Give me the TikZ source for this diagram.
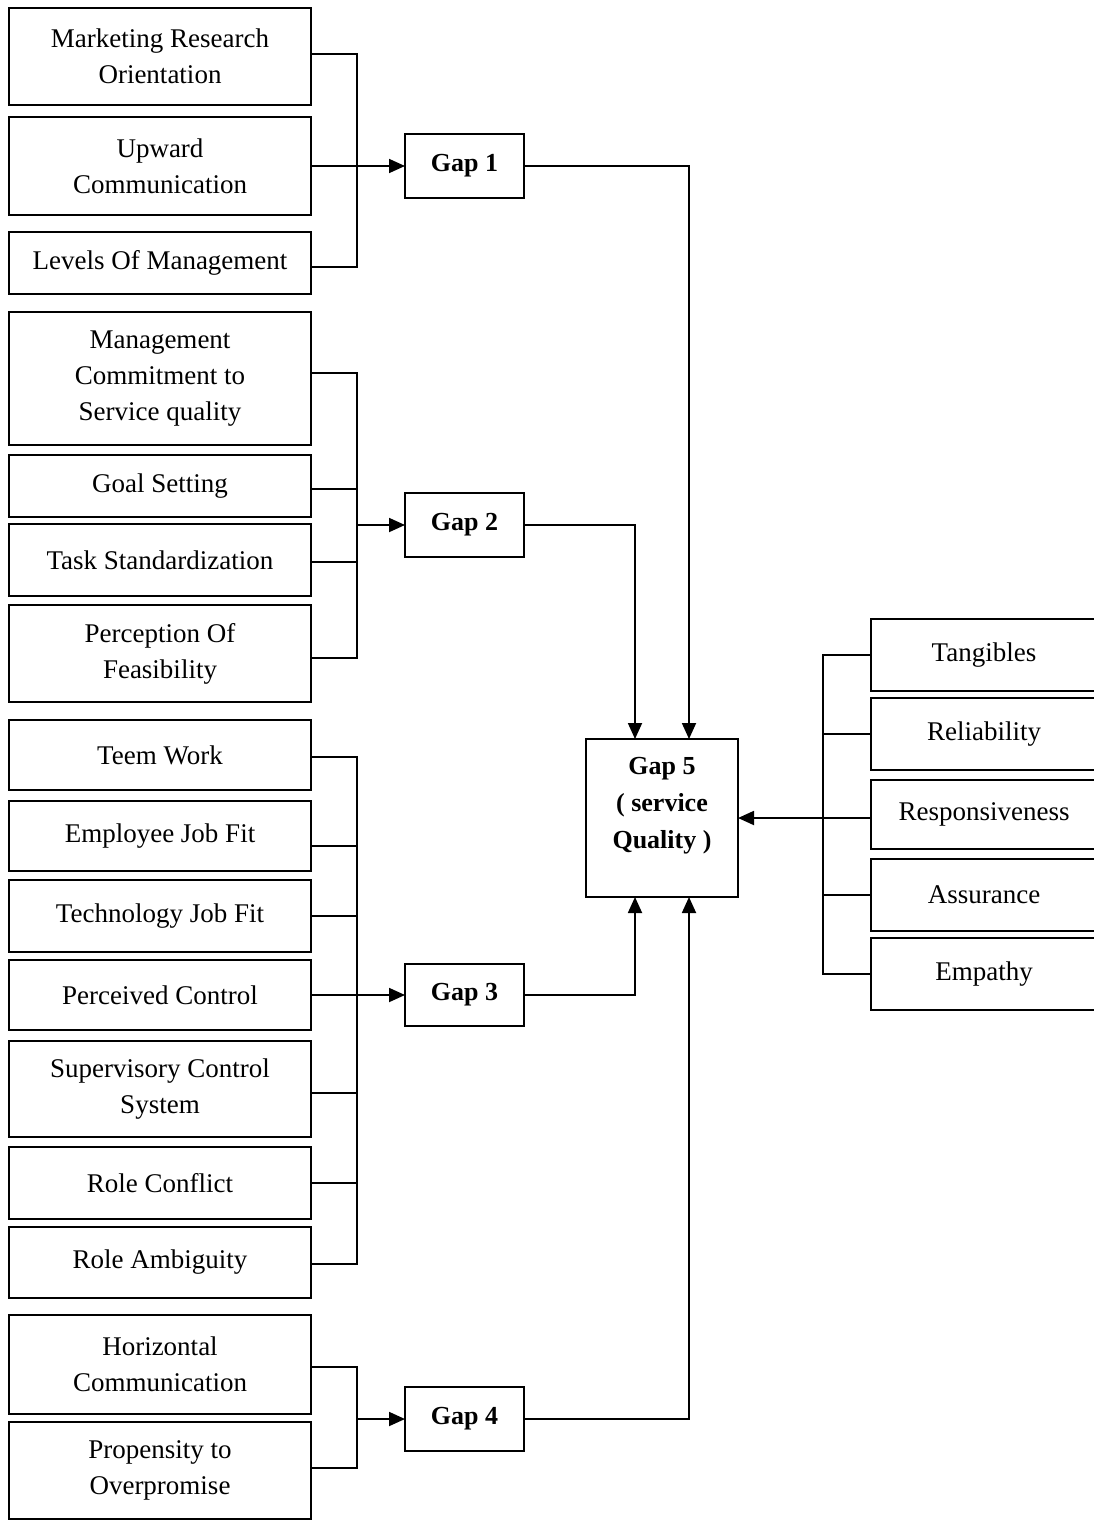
\documentclass[tikz,border=0pt]{standalone}
\usepackage{fontspec}
\setmainfont{Liberation Serif}
\usetikzlibrary{arrows.meta}

% place a box given its corner coordinates (in px-like units)
\newcommand\mkbox[7][]{%
  \node[#1, minimum width={#5-#3}, minimum height={#6-#4}]
    (#2) at ({(#3+#5)/2},{(#4+#6)/2}) {#7};}

\begin{document}
\begin{tikzpicture}[x=1pt, y=-1pt,
  every node/.style={inner sep=0pt, outer sep=0pt},
  itembox/.style={draw, line width=1.8pt, align=center,
    font=\fontsize{27}{36}\selectfont},
  gapbox/.style={draw, line width=1.8pt, align=center,
    font=\fontsize{26}{37}\selectfont\bfseries},
  wire/.style={line width=1.8pt},
  arr/.style={line width=1.8pt, -{Triangle[length=16pt, width=14pt]}}]

\useasboundingbox[fill=white] (0,0) rectangle (1094,1520);

% factors feeding the four gaps
\mkbox[itembox]{b1}{9}{8}{311}{105}{Marketing Research\\Orientation}
\mkbox[itembox]{b2}{9}{117}{311}{215}{Upward\\Communication}
\mkbox[itembox]{b3}{9}{232}{311}{294}{Levels Of Management}
\mkbox[itembox]{b4}{9}{312}{311}{445}{Management\\Commitment to\\Service quality}
\mkbox[itembox]{b5}{9}{455}{311}{517}{Goal Setting}
\mkbox[itembox]{b6}{9}{524}{311}{596}{Task Standardization}
\mkbox[itembox]{b7}{9}{605}{311}{702}{Perception Of\\Feasibility}
\mkbox[itembox]{b8}{9}{720}{311}{790}{Teem Work}
\mkbox[itembox]{b9}{9}{801}{311}{871}{Employee Job Fit}
\mkbox[itembox]{b10}{9}{880}{311}{952}{Technology Job Fit}
\mkbox[itembox]{b11}{9}{960}{311}{1030}{Perceived Control}
\mkbox[itembox]{b12}{9}{1041}{311}{1137}{Supervisory Control\\System}
\mkbox[itembox]{b13}{9}{1147}{311}{1219}{Role Conflict}
\mkbox[itembox]{b14}{9}{1227}{311}{1298}{Role Ambiguity}
\mkbox[itembox]{b15}{9}{1315}{311}{1414}{Horizontal\\Communication}
\mkbox[itembox]{b16}{9}{1422}{311}{1519}{Propensity to\\Overpromise}

% the gaps
\mkbox[gapbox]{g1}{405}{134}{524}{198}{Gap 1}
\mkbox[gapbox]{g2}{405}{493}{524}{557}{Gap 2}
\mkbox[gapbox]{g3}{405}{964}{524}{1026}{Gap 3}
\mkbox[gapbox]{g4}{405}{1387}{524}{1451}{Gap 4}
\mkbox[gapbox, label={[font=\fontsize{26}{37}\selectfont\bfseries,
  align=center, yshift=12pt]center:{Gap 5\\( service\\Quality )}}]{g5}{586}{739}{738}{897}{}

% service quality dimensions
\mkbox[itembox]{r1}{871}{619}{1097}{691}{Tangibles}
\mkbox[itembox]{r2}{871}{698}{1097}{770}{Reliability}
\mkbox[itembox]{r3}{871}{780}{1097}{849}{Responsiveness}
\mkbox[itembox]{r4}{871}{859}{1097}{931}{Assurance}
\mkbox[itembox]{r5}{871}{938}{1097}{1010}{Empathy}

% bus coordinates
\coordinate (k1t) at (357,54);
\coordinate (k1b) at (357,267);
\coordinate (k2t) at (357,373);
\coordinate (k2b) at (357,658);
\coordinate (k3t) at (357,757);
\coordinate (k3b) at (357,1264);
\coordinate (k4t) at (357,1367);
\coordinate (k4b) at (357,1468);
\coordinate (kr) at (823,0);

% group 1
\draw[wire] (b1.east |- k1t) -- (k1t) -- (k1b) -- (b3.east |- k1b);
\draw[arr] (b2.east) -- (g1.west);

% group 2
\draw[wire] (b4.east |- k2t) -- (k2t) -- (k2b) -- (b7.east |- k2b);
\draw[wire] ([yshift=-3pt]b5.east) -- ++(46,0);
\draw[wire] ([yshift=-2pt]b6.east) -- ++(46,0);
\draw[arr] (k2t |- g2.west) -- (g2.west);

% group 3
\draw[wire] (b8.east |- k3t) -- (k3t) -- (k3b) -- (b14.east |- k3b);
\draw[wire] ([yshift=-10pt]b9.east) -- ++(46,0);
\draw[wire] (b10.east) -- ++(46,0);
\draw[wire] ([yshift=-4pt]b12.east) -- ++(46,0);
\draw[wire] (b13.east) -- ++(46,0);
\draw[arr] (b11.east) -- (g3.west);

% group 4
\draw[wire] (b15.east |- k4t) -- (k4t) -- (k4b) -- (b16.east |- k4b);
\draw[arr] (k4t |- g4.west) -- (g4.west);

% gaps into gap 5
\draw[arr] (g1.east) -| ([xshift=27pt]g5.north);
\draw[arr] (g2.east) -| ([xshift=-27pt]g5.north);
\draw[arr] (g3.east) -| ([xshift=-27pt]g5.south);
\draw[arr] (g4.east) -| ([xshift=27pt]g5.south);

% dimensions into gap 5
\draw[wire] (r1.west) -- (kr |- r1.west) -- (kr |- r5.west) -- (r5.west);
\draw[wire] (r2.west) -- (kr |- r2.west);
\draw[wire] (r4.west) -- (kr |- r4.west);
\draw[arr] (r3.west |- g5.east) -- (g5.east);
\end{tikzpicture}
\end{document}
